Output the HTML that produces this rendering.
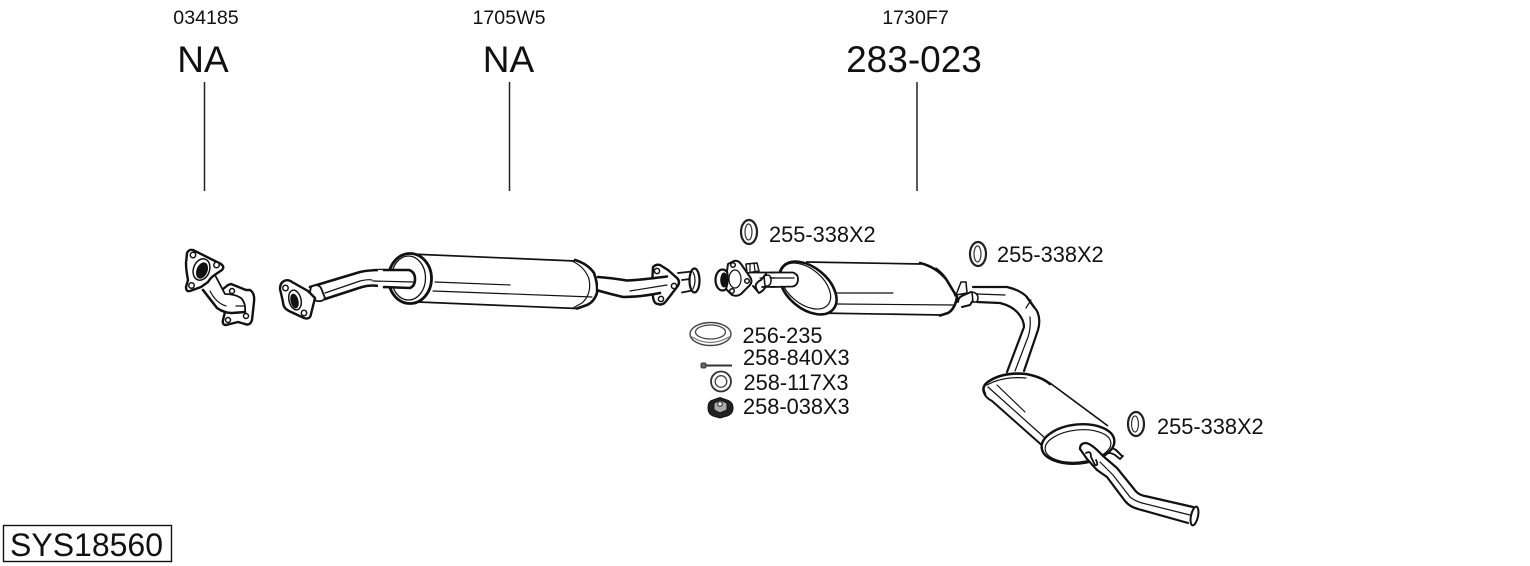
<!DOCTYPE html>
<html><head><meta charset="utf-8"><style>
html,body{margin:0;padding:0;background:#fff}
svg{display:block}
text{font-family:"Liberation Sans",sans-serif;fill:#111}
.p{fill:#fff;stroke:#111;stroke-width:1.5;stroke-linejoin:round;stroke-linecap:round}
.t{fill:#fff;stroke:#111;stroke-width:2.4;stroke-linejoin:round;stroke-linecap:round}
.l{fill:none;stroke:#111;stroke-width:1.2;stroke-linecap:round;stroke-linejoin:round}
.e{fill:none;stroke:#111;stroke-width:1.8;stroke-linecap:round;stroke-linejoin:round}
.h{fill:none;stroke:#111;stroke-width:2.6;stroke-linecap:round;stroke-linejoin:round}
.w{fill:#fff;stroke:none}
.k{fill:#111;stroke:none}
.s{font-size:19.6px}.b{font-size:37px}.m{font-size:21.8px}
</style></head><body>
<svg width="1530" height="566" viewBox="0 0 1530 566" xmlns="http://www.w3.org/2000/svg">
<rect width="1530" height="566" fill="#fff"/>
<text class="s" x="206" y="24" text-anchor="middle">034185</text>
<text class="s" x="509" y="24" text-anchor="middle">1705W5</text>
<text class="s" x="915.500" y="24" text-anchor="middle">1730F7</text>
<text class="b" x="203" y="72" text-anchor="middle">NA</text>
<text class="b" x="508.500" y="72" text-anchor="middle">NA</text>
<text class="b" x="914" y="72" text-anchor="middle">283-023</text>
<path d="M204.500 82V191M509.500 82V191M917 82V191" stroke="#222" stroke-width="1.500" fill="none"/>

<!-- part 1 -->
<path class="t" d="M228 285L231 284L246 290L250 290Q255 293 254 302L252 320Q250 326 245 324L238 322L226 325Q222 325 223 320L225 312L212 298Z"/>
<circle cx="232" cy="291" r="2.500" class="p"/><circle cx="246" cy="316" r="2.500" class="p"/><circle cx="228" cy="320" r="2.500" class="p"/>
<path class="w" d="M204 288L215 275L225 294L240 296L246 311L232 313L217 308Z"/>
<path class="h" d="M203 290L217 308Q224 313 232 313L245 312"/>
<path class="e" d="M215 275L225 294Q235 294 241 298Q246 303 245 312"/>
<path class="l" d="M236 306H244M210 291Q216 303 226 306"/>
<path class="t" d="M187 253Q189 249 193 250L221 264Q225 267 222 270L216 274Q211 277 208 282L201 287L190 291Q186 292 186 287L188 280Q186 270 186 263Z"/>
<ellipse cx="201.500" cy="269.500" rx="8" ry="11" transform="rotate(20 201.500 269.500)" fill="#fff" stroke="#111" stroke-width="1.500"/>
<ellipse cx="202" cy="270.500" rx="5.500" ry="8.500" transform="rotate(22 202 270.500)" class="k"/>
<circle cx="193" cy="255" r="2.700" class="p"/><circle cx="216.500" cy="265" r="2.700" class="p"/><circle cx="191.500" cy="285.500" r="2.700" class="p"/>

<!-- part 2: inlet pipe -->
<path class="w" d="M310 287L360 272Q372 270 384 270V288Q372 285 360 289L325 299Z"/>
<path class="h" d="M310 287L360 272Q368 270 384 270M325 299L362 287Q372 284 384 287"/>
<path class="l" d="M325 293L360 281Q368 279 372 280"/>
<path class="t" d="M311 287Q318 283 321 288L325 298Q323 302 317 301Q311 299 310 292Z" style="stroke-width:1.800"/>
<path class="t" d="M284 281Q288 279 292 282L308 291L315 298L311 314Q310 320 304 318L289 311Q283 308 283 302L280 289Q280 283 284 281Z"/>
<ellipse cx="295" cy="300" rx="6" ry="10" transform="rotate(-14 295 300)" fill="#fff" stroke="#111" stroke-width="1.500"/>
<ellipse cx="294.500" cy="301" rx="4" ry="7.500" transform="rotate(-14 294.500 301)" class="k"/>
<circle cx="285.500" cy="288" r="2.700" class="p"/><circle cx="304" cy="313" r="2.700" class="p"/>

<!-- main silencer -->
<path class="w" d="M415 254L575 260Q590 264 595 273Q599 284 597 293Q594 302 587 305L577 308L415 302Z"/>
<path d="M410 254L575 261M418 302L577 308.500" fill="none" stroke="#111" stroke-width="1.700"/>
<path class="l" d="M435 282L510 285M433 291L592 297"/>
<path class="h" d="M575 260Q588 264 594 273Q598 284 597 293Q594 302 587 305L577 308.500"/>
<path class="l" d="M572 261Q585 267 589 279Q592 294 582 303L573 308"/>
<ellipse cx="410" cy="278.500" rx="21.500" ry="25" fill="#fff" stroke="#111" stroke-width="2.800"/>
<ellipse cx="408.500" cy="278" rx="17" ry="22" fill="#fff" stroke="#111" stroke-width="1.300"/>
<path class="w" d="M378 270H410Q415 272 415 279Q415 285 410 288H378Z"/>
<path class="h" d="M384 270L409 270Q415 272 415 279Q415 286 410 288L384 287"/>
<path class="l" d="M373 281L413 282"/>

<!-- outlet flange and pipe -->
<path class="w" d="M678 273L692 271V291L682 292Z"/>
<path class="e" d="M678 273L692 271.500M682 292.500L692 290.500M682 280L690 279"/>
<ellipse cx="694.500" cy="280.500" rx="5" ry="12" fill="#fff" stroke="#111" stroke-width="2.200"/>
<path class="l" d="M693 272Q697 280 693 289"/>
<path class="t" d="M653 267Q656 264 660 265L668 270L677 278Q681 282 677 287L667 300Q663 306 658 304Q654 304 653 297L652 285Z"/>
<circle cx="657" cy="271" r="2.600" class="p"/><circle cx="674" cy="286" r="2.600" class="p"/><circle cx="661" cy="299" r="2.600" class="p"/>
<path class="w" d="M598 277L627 280L667 277L663 293L623 297L598 291Z"/>
<path class="h" d="M598 277Q612 278 627 280.500Q640 280 667 276.500M598 290.500Q610 294 623 297Q640 297 660 293"/>
<path class="l" d="M630 291L667 285"/>

<!-- part 3 muffler 1 -->
<path class="w" d="M745 272H798V287H745Z"/>
<path class="e" d="M747 272.500L793 272.500Q798 274 798 279Q798 285 793 286.500L762 287"/>
<path class="l" d="M760 278H795"/>
<path class="p" d="M746 264L757 263L759 271L747 273Z"/>
<path class="l" d="M750 264V272M754 263L755 271"/>
<path class="w" d="M715 270H730V290H715Z"/>
<ellipse cx="722.500" cy="280" rx="7" ry="10.500" fill="#fff" stroke="#111" stroke-width="2.200"/>
<path class="t" d="M728 264L734 261Q738 260 741 264L750 277Q753 281 750 285L741 294Q737 297 732 295L726 289Q729 280 727 271Z" style="stroke-width:2"/>
<ellipse cx="724" cy="280" rx="3.800" ry="7.500" class="k"/>
<ellipse cx="735" cy="279" rx="6" ry="9" fill="#fff" stroke="#111" stroke-width="1.200"/>
<circle cx="733" cy="265" r="2.300" class="p"/><circle cx="747" cy="281" r="2.300" class="p"/><circle cx="732" cy="291" r="2.300" class="p"/>
<path class="h" d="M757 290Q753 284 761 280L766 274M753 286L759 293Q766 290 769 279" style="stroke-width:2"/>
<path class="p" d="M764 276Q771 273 771 280Q771 287 765 286Z"/>

<path class="w" d="M806 262L920 263Q935 267 945 279L957 297Q955 309 946 314L936 316L816 313Z"/>
<path d="M806 262L921 264M816 313L942 315" fill="none" stroke="#111" stroke-width="1.700"/>
<path class="l" d="M837 293H893M837 304L953 305"/>
<path class="h" d="M920 263Q936 267 946 279L957 297Q955 309 948 313L940 315.500"/>
<path class="l" d="M936 268Q948 276 955 296"/>
<g transform="rotate(40 808 288)">
<ellipse cx="808" cy="288" rx="33" ry="20.500" fill="#fff" stroke="#111" stroke-width="2.600"/>
<ellipse cx="805" cy="288" rx="29" ry="17.500" fill="#fff" stroke="#111" stroke-width="1.200"/>
</g>
<path class="w" d="M775 272H792Q798 272 798 279Q798 286 792 287H775Z"/>
<path class="e" d="M771 272.500L793 272.500Q798 274 798 279Q798 285 793 286.500L771 287"/>
<path class="l" d="M770 278H794"/>

<!-- connector pipe to muffler 2 -->
<path class="w" d="M960 289L1007 287Q1020 290 1027 297L1040 318Q1041 325 1038 330L1024 371L1007 372L1024 327Q1022 319 1018 313Q1010 305 1000 303L977 302L960 300Z"/>
<path class="h" d="M973 287L1007 287Q1020 290 1027 297L1037 311Q1041 320 1038 330L1024 371" style="stroke-width:2.200"/>
<path class="h" d="M977 302L1000 303Q1012 306 1018 313Q1024 320 1024 327L1007 372" style="stroke-width:2.200"/>
<path class="l" d="M977 294L1005 295M1026 297L1034 308M1026 308L1031 300M1030 317Q1031 328 1028 337L1015 371"/>
<path class="p" d="M956 295L961 282L966 282L967 293Z"/>
<path class="h" d="M958 302Q958 297 964 295L971 292M962 307L970 305L977 294" style="stroke-width:2"/>
<path class="p" d="M972 292Q978 293 978 298Q978 303 973 302Z"/>

<!-- muffler 2 -->
<path class="w" d="M986 384Q1000 373 1024 374Q1042 378 1050 383L1108 425L1047 449L987 396Z"/>
<path d="M1050 383L1108 426" fill="none" stroke="#111" stroke-width="1.700"/>
<path class="l" d="M988 387L1045 438M997 385L1025 412"/>
<path d="M984 393Q986 398 992 401L1045 448" fill="none" stroke="#111" stroke-width="2"/>
<path class="h" d="M985 394Q980 386 991 380Q1005 372 1026 374Q1042 377 1050 384"/>
<path class="l" d="M987 385Q1003 376 1026 378"/>
<path class="h" d="M1107 448Q1111 447 1116 450L1122 456" style="stroke-width:2"/>
<path class="e" d="M1108 453Q1112 453 1115 455L1120 459L1123 456"/>
<ellipse cx="1078" cy="444" rx="36.500" ry="19.500" transform="rotate(-6 1078 444)" fill="#fff" stroke="#111" stroke-width="2.400"/>
<ellipse cx="1078" cy="446" rx="33" ry="16" transform="rotate(-6 1078 446)" fill="#fff" stroke="#111" stroke-width="1.200"/>
<path class="w" d="M1080 445Q1082 440 1086 443L1103 457L1117 468L1140 495L1193 507L1187 523L1130 507L1107 477L1097 470L1083 457Z"/>
<path class="h" d="M1080 449Q1080 443 1086 443Q1092 444 1103 456L1117 468L1134 489Q1138 495 1145 496L1193 507" style="stroke-width:2.200"/>
<path class="h" d="M1080 449L1087 459L1097 470L1107 477L1125 501Q1130 507 1138 509L1188 523" style="stroke-width:2.200"/>
<path class="l" d="M1100 462L1113 475L1130 497Q1135 501 1142 503L1190 515"/>
<path class="e" d="M1086 453Q1091 450 1091 457L1095 465Q1099 466 1096 460"/>
<ellipse cx="1194.500" cy="516" rx="3.500" ry="9.500" transform="rotate(12 1194.500 516)" fill="#fff" stroke="#111" stroke-width="2"/>

<!-- rings -->
<ellipse cx="749" cy="232" rx="8" ry="12" fill="#fff" stroke="#222" stroke-width="2.200"/><ellipse cx="748.500" cy="232" rx="3.500" ry="8" fill="#fff" stroke="#333" stroke-width="1.200"/>
<ellipse cx="978" cy="254" rx="8" ry="12" fill="#fff" stroke="#222" stroke-width="2.200"/><ellipse cx="977.500" cy="254" rx="3.500" ry="8" fill="#fff" stroke="#333" stroke-width="1.200"/>
<ellipse cx="1136" cy="424" rx="8" ry="12" fill="#fff" stroke="#222" stroke-width="2.200"/><ellipse cx="1135" cy="424" rx="3.500" ry="8" fill="#fff" stroke="#333" stroke-width="1.200"/>
<text class="m" x="769" y="242">255-338X2</text>
<text class="m" x="997" y="262">255-338X2</text>
<text class="m" x="1157" y="434">255-338X2</text>

<!-- small parts -->
<ellipse cx="710.500" cy="334" rx="20.500" ry="11.500" fill="#fff" stroke="#444" stroke-width="1.400"/>
<ellipse cx="710.500" cy="332" rx="15" ry="7" fill="#fff" stroke="#444" stroke-width="1.300"/>
<path class="l" d="M692 337Q710 348 729 337" style="stroke:#777"/>
<path d="M706 365.500H732" stroke="#333" stroke-width="2"/>
<rect x="701" y="363" width="5" height="5" rx="1.500" fill="#666" stroke="#333"/>
<circle cx="721" cy="381.500" r="10" fill="#fff" stroke="#333" stroke-width="1.800"/>
<circle cx="721" cy="381.500" r="5.800" fill="#fff" stroke="#444" stroke-width="1.300"/>
<path d="M708 408Q708 401 713 400L720 397.500L727 400Q733 402 733 408Q733 414 727 416L720 418L713 416Q708 414 708 408Z" fill="#222" stroke="#111"/>
<path d="M714 403L720 400L727 403V410L720 413L714 410Z" fill="#aaa" stroke="#111"/>
<circle cx="720" cy="404" r="2.300" fill="#eee" stroke="#222"/>
<text class="m" x="742.500" y="343">256-235</text>
<text class="m" x="743" y="365">258-840X3</text>
<text class="m" x="743.500" y="390">258-117X3</text>
<text class="m" x="743" y="414">258-038X3</text>

<rect x="3.500" y="525.500" width="168" height="36" fill="#fff" stroke="#111" stroke-width="1.400"/>
<text x="10" y="556" style="font-size:32px">SYS18560</text>
</svg>
</body></html>
